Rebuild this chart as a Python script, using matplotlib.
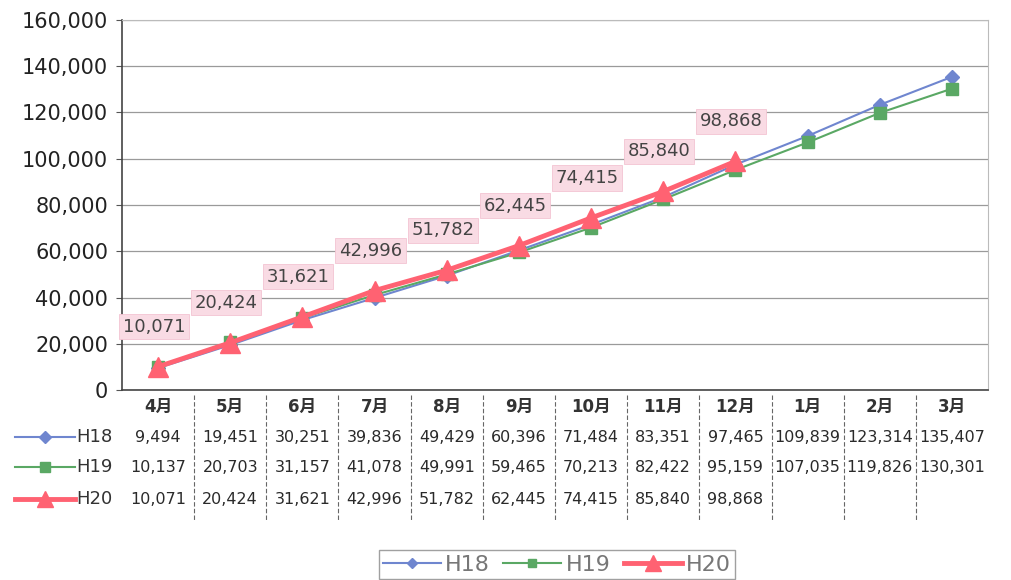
import matplotlib
matplotlib.use("Agg")
import matplotlib.pyplot as plt
import matplotlib.transforms as mtransforms
from matplotlib.lines import Line2D
import numpy as np

plt.rcParams["font.family"] = ["DejaVu Sans", "Noto Sans CJK JP"]

months = ["4月", "5月", "6月", "7月", "8月", "9月", "10月", "11月", "12月", "1月", "2月", "3月"]
h18 = [9494, 19451, 30251, 39836, 49429, 60396, 71484, 83351, 97465, 109839, 123314, 135407]
h19 = [10137, 20703, 31157, 41078, 49991, 59465, 70213, 82422, 95159, 107035, 119826, 130301]
h20 = [10071, 20424, 31621, 42996, 51782, 62445, 74415, 85840, 98868]
yticks = [0, 20000, 40000, 60000, 80000, 100000, 120000, 140000, 160000]

series = [
    ("H18", h18, "#6f86cf", "D", 7, 1.5),
    ("H19", h19, "#5aa864", "s", 8, 1.5),
    ("H20", h20, "#ff6272", "^", 14, 3.5),
]

W, H = 1011, 580
fig = plt.figure(figsize=(W / 100, H / 100), dpi=100)
ax = fig.add_axes([122 / W, 1 - 390 / H, 866 / W, 370 / H])

x = np.arange(len(months))
for name, vals, col, mk, ms, lw in series:
    ax.plot(x[:len(vals)], vals, color=col, marker=mk, markersize=ms, lw=lw,
            label=name, zorder=3 if name != "H20" else 4)

# data labels for H20
for i, v in enumerate(h20):
    ax.annotate(f"{v:,}", (i, v), xytext=(-4, 40), textcoords="offset pixels",
                ha="center", va="center", fontsize=13, color="#444444",
                bbox=dict(boxstyle="square,pad=0.2", fc="#f9dbe4", ec="#f3c4d2", lw=0.6),
                zorder=5)

ax.set_xlim(-0.5, len(months) - 0.5)
ax.set_ylim(0, 160000)
ax.set_yticks(yticks)
ax.set_yticklabels([f"{t:,}" for t in yticks], fontsize=15, color="#222222")
ax.set_xticks([])
ax.tick_params(axis="y", length=4, color="#555555", pad=6)
ax.grid(axis="y", color="#9a9a9a", lw=0.9)
ax.set_axisbelow(True)
for side in ["top", "right"]:
    ax.spines[side].set_color("#bbbbbb")
for side in ["left", "bottom"]:
    ax.spines[side].set_color("#444444")
    ax.spines[side].set_linewidth(1.2)

# data table below the plot
tr = mtransforms.blended_transform_factory(ax.transData, fig.transFigure)
row_y = [1 - 437 / H, 1 - 467 / H, 1 - 499 / H]
for i, m in enumerate(months):
    fig.text(i, 1 - 407 / H, m, transform=tr, ha="center", va="center",
             fontsize=12, color="#333333", fontweight="bold")
for (name, vals, col, mk, ms, lw), yy in zip(series, row_y):
    for i, v in enumerate(vals):
        fig.text(i, yy, f"{v:,}", transform=tr, ha="center", va="center",
                 fontsize=11.5, color="#2a2a2a")
    fig.add_artist(Line2D([15 / W, 75 / W], [yy, yy], color=col, lw=lw,
                          transform=fig.transFigure))
    fig.add_artist(Line2D([45 / W], [yy], color=col, marker=mk,
                          markersize=ms * 0.85, transform=fig.transFigure))
    fig.text(76 / W, yy, name, ha="left", va="center", fontsize=13, color="#333333")

for i in range(len(months) - 1):
    fig.add_artist(Line2D([i + 0.5, i + 0.5], [1 - 395 / H, 1 - 520 / H],
                          color="#666666", lw=0.8, ls=(0, (4, 2)), transform=tr))

leg = fig.legend(loc="upper center", bbox_to_anchor=(557 / W, 1 - 539 / H), ncol=3,
                 fontsize=16, handlelength=2.6, columnspacing=0.6, handletextpad=0.2,
                 markerscale=0.8, frameon=True, fancybox=False, edgecolor="#888888",
                 borderpad=0.2)
for t in leg.get_texts():
    t.set_color("#777777")

fig.savefig("out.png", dpi=100)
